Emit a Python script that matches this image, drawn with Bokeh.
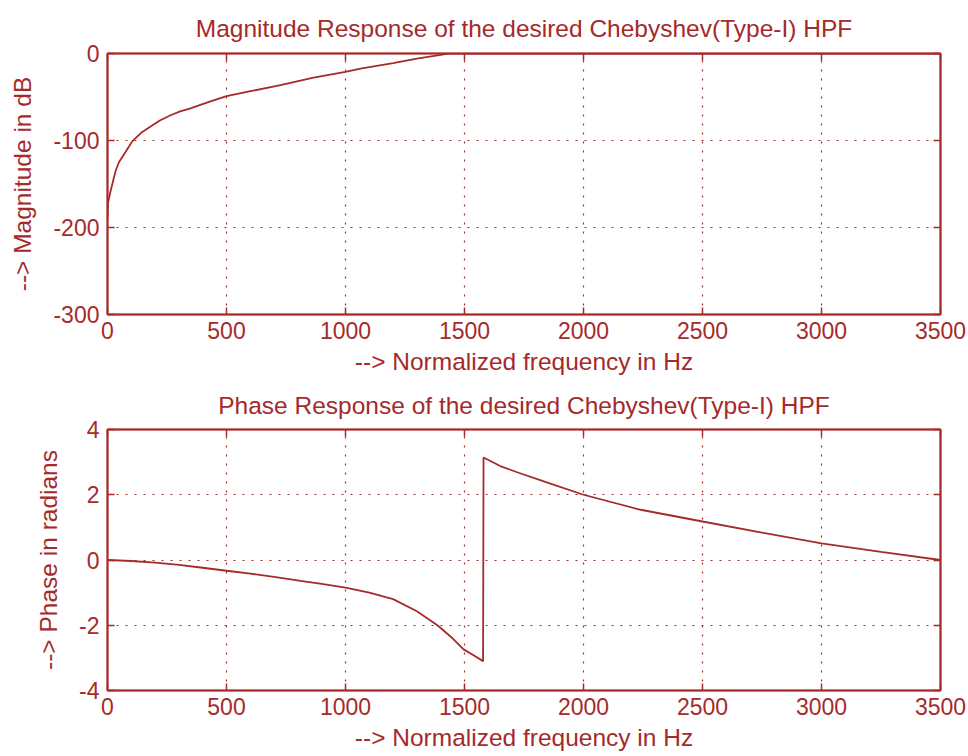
from bokeh.plotting import figure
from bokeh.layouts import column
from bokeh.models import LinearAxis, FixedTicker, Range1d, PrintfTickFormatter, CustomJSTickFormatter
from bokeh.embed import file_html
from bokeh.resources import INLINE

# ---- data ----
freq_mag = [0, 2, 13, 24, 34, 48, 62, 83, 104, 140, 181, 220, 265, 305, 349, 390,
            433, 500, 601, 727, 866, 1000, 1063, 1200, 1300, 1400, 1430,
            1500, 2000, 2500, 3000, 3500]
mag_db = [-190, -172, -158, -146, -135, -125, -119, -110, -101, -91.5, -84, -77,
          -71, -66.5, -63, -59, -55, -49, -43.3, -36.3, -27.8, -21, -17.5, -11,
          -6, -1.5, 0, 0, 0, 0, 0, 0]

freq_phase = [0, 100, 200, 300, 391, 500, 600, 700, 811, 900, 1000, 1100, 1200,
              1300, 1386, 1450, 1496, 1540, 1578, 1580, 1650, 1721, 1861, 2000,
              2240, 2500, 2750, 3000, 3250, 3500]
phase_rad = [0, -0.03, -0.08, -0.15, -0.23, -0.33, -0.42, -0.52, -0.64, -0.73,
             -0.85, -1.0, -1.2, -1.57, -2.0, -2.4, -2.74, -2.93, -3.1, 3.14,
             2.88, 2.69, 2.34, 2.0, 1.54, 1.18, 0.84, 0.51, 0.25, 0.0]

x_ticks = [0, 500, 1000, 1500, 2000, 2500, 3000, 3500]
mag_ticks = [-300, -200, -100, 0]
phase_ticks = [-4, -2, 0, 2, 4]

mag_title = "Magnitude Response of the desired Chebyshev(Type-I) HPF"
phase_title = "Phase Response of the desired Chebyshev(Type-I) HPF"
x_label = "--> Normalized frequency in Hz"
mag_ylabel = "--> Magnitude in dB"
phase_ylabel = "--> Phase in radians"

C = "#A52A2A"
FONT = "Liberation Sans"
FS_TITLE = "24.5px"
FS_LABEL = "24.5px"
FS_TICK = "23px"


def style_axis(ax, ticks, show_labels=True):
    ax.ticker = FixedTicker(ticks=ticks)
    ax.axis_line_color = C
    ax.axis_line_width = 2
    ax.major_tick_line_color = C
    ax.major_tick_line_width = 1.5
    ax.major_tick_in = 7
    ax.major_tick_out = 0
    ax.minor_tick_line_color = None
    ax.major_label_text_color = C
    ax.major_label_text_font = FONT
    ax.major_label_text_font_size = FS_TICK
    if show_labels:
        ax.formatter = PrintfTickFormatter(format="%d")
    else:
        ax.formatter = CustomJSTickFormatter(code="return ''")
        ax.major_label_standoff = 0
    ax.axis_label_text_color = C
    ax.axis_label_text_font = FONT
    ax.axis_label_text_font_size = FS_LABEL
    ax.axis_label_text_font_style = "normal"


def make(title, ylabel, yr, yticks, xs, ys, mb_top, mb_bottom, h, title_standoff):
    p = figure(width=968, height=h, x_range=Range1d(0, 3500), y_range=Range1d(*yr),
               output_backend="svg", toolbar_location=None,
               min_border_left=107, min_border_right=28,
               min_border_top=mb_top, min_border_bottom=mb_bottom, title=title)
    p.title.text_color = C
    p.title.text_font = FONT
    p.title.text_font_size = FS_TITLE
    p.title.text_font_style = "normal"
    p.title.align = "center"
    p.title.standoff = title_standoff
    p.outline_line_color = C
    p.outline_line_width = 1.5
    p.background_fill_color = "white"
    p.border_fill_color = "white"

    style_axis(p.xaxis[0], x_ticks)
    style_axis(p.yaxis[0], yticks)
    p.xaxis[0].axis_label = x_label
    p.yaxis[0].axis_label = ylabel
    p.xaxis[0].major_label_standoff = 7
    p.xaxis[0].axis_label_standoff = 6
    p.yaxis[0].major_label_standoff = 8
    p.yaxis[0].axis_label_standoff = 14

    top = LinearAxis()
    style_axis(top, x_ticks, show_labels=False)
    p.add_layout(top, "above")
    right = LinearAxis()
    style_axis(right, yticks, show_labels=False)
    p.add_layout(right, "right")

    for g in (p.xgrid[0], p.ygrid[0]):
        g.grid_line_color = C
        g.grid_line_dash = "2 7"
        g.grid_line_width = 1.2
    p.xgrid[0].ticker = FixedTicker(ticks=x_ticks)
    p.ygrid[0].ticker = FixedTicker(ticks=yticks)

    p.line(xs, ys, line_color=C, line_width=1.8)
    return p


p1 = make(mag_title, mag_ylabel, (-300, 0), mag_ticks, freq_mag, mag_db, 53, 64, 378, 24)
p2 = make(phase_title, phase_ylabel, (-4, 4), phase_ticks, freq_phase, phase_rad, 51, 66, 378, 22)

layout = column(p1, p2, spacing=0)
open("out.html", "w").write(file_html(layout, INLINE))
